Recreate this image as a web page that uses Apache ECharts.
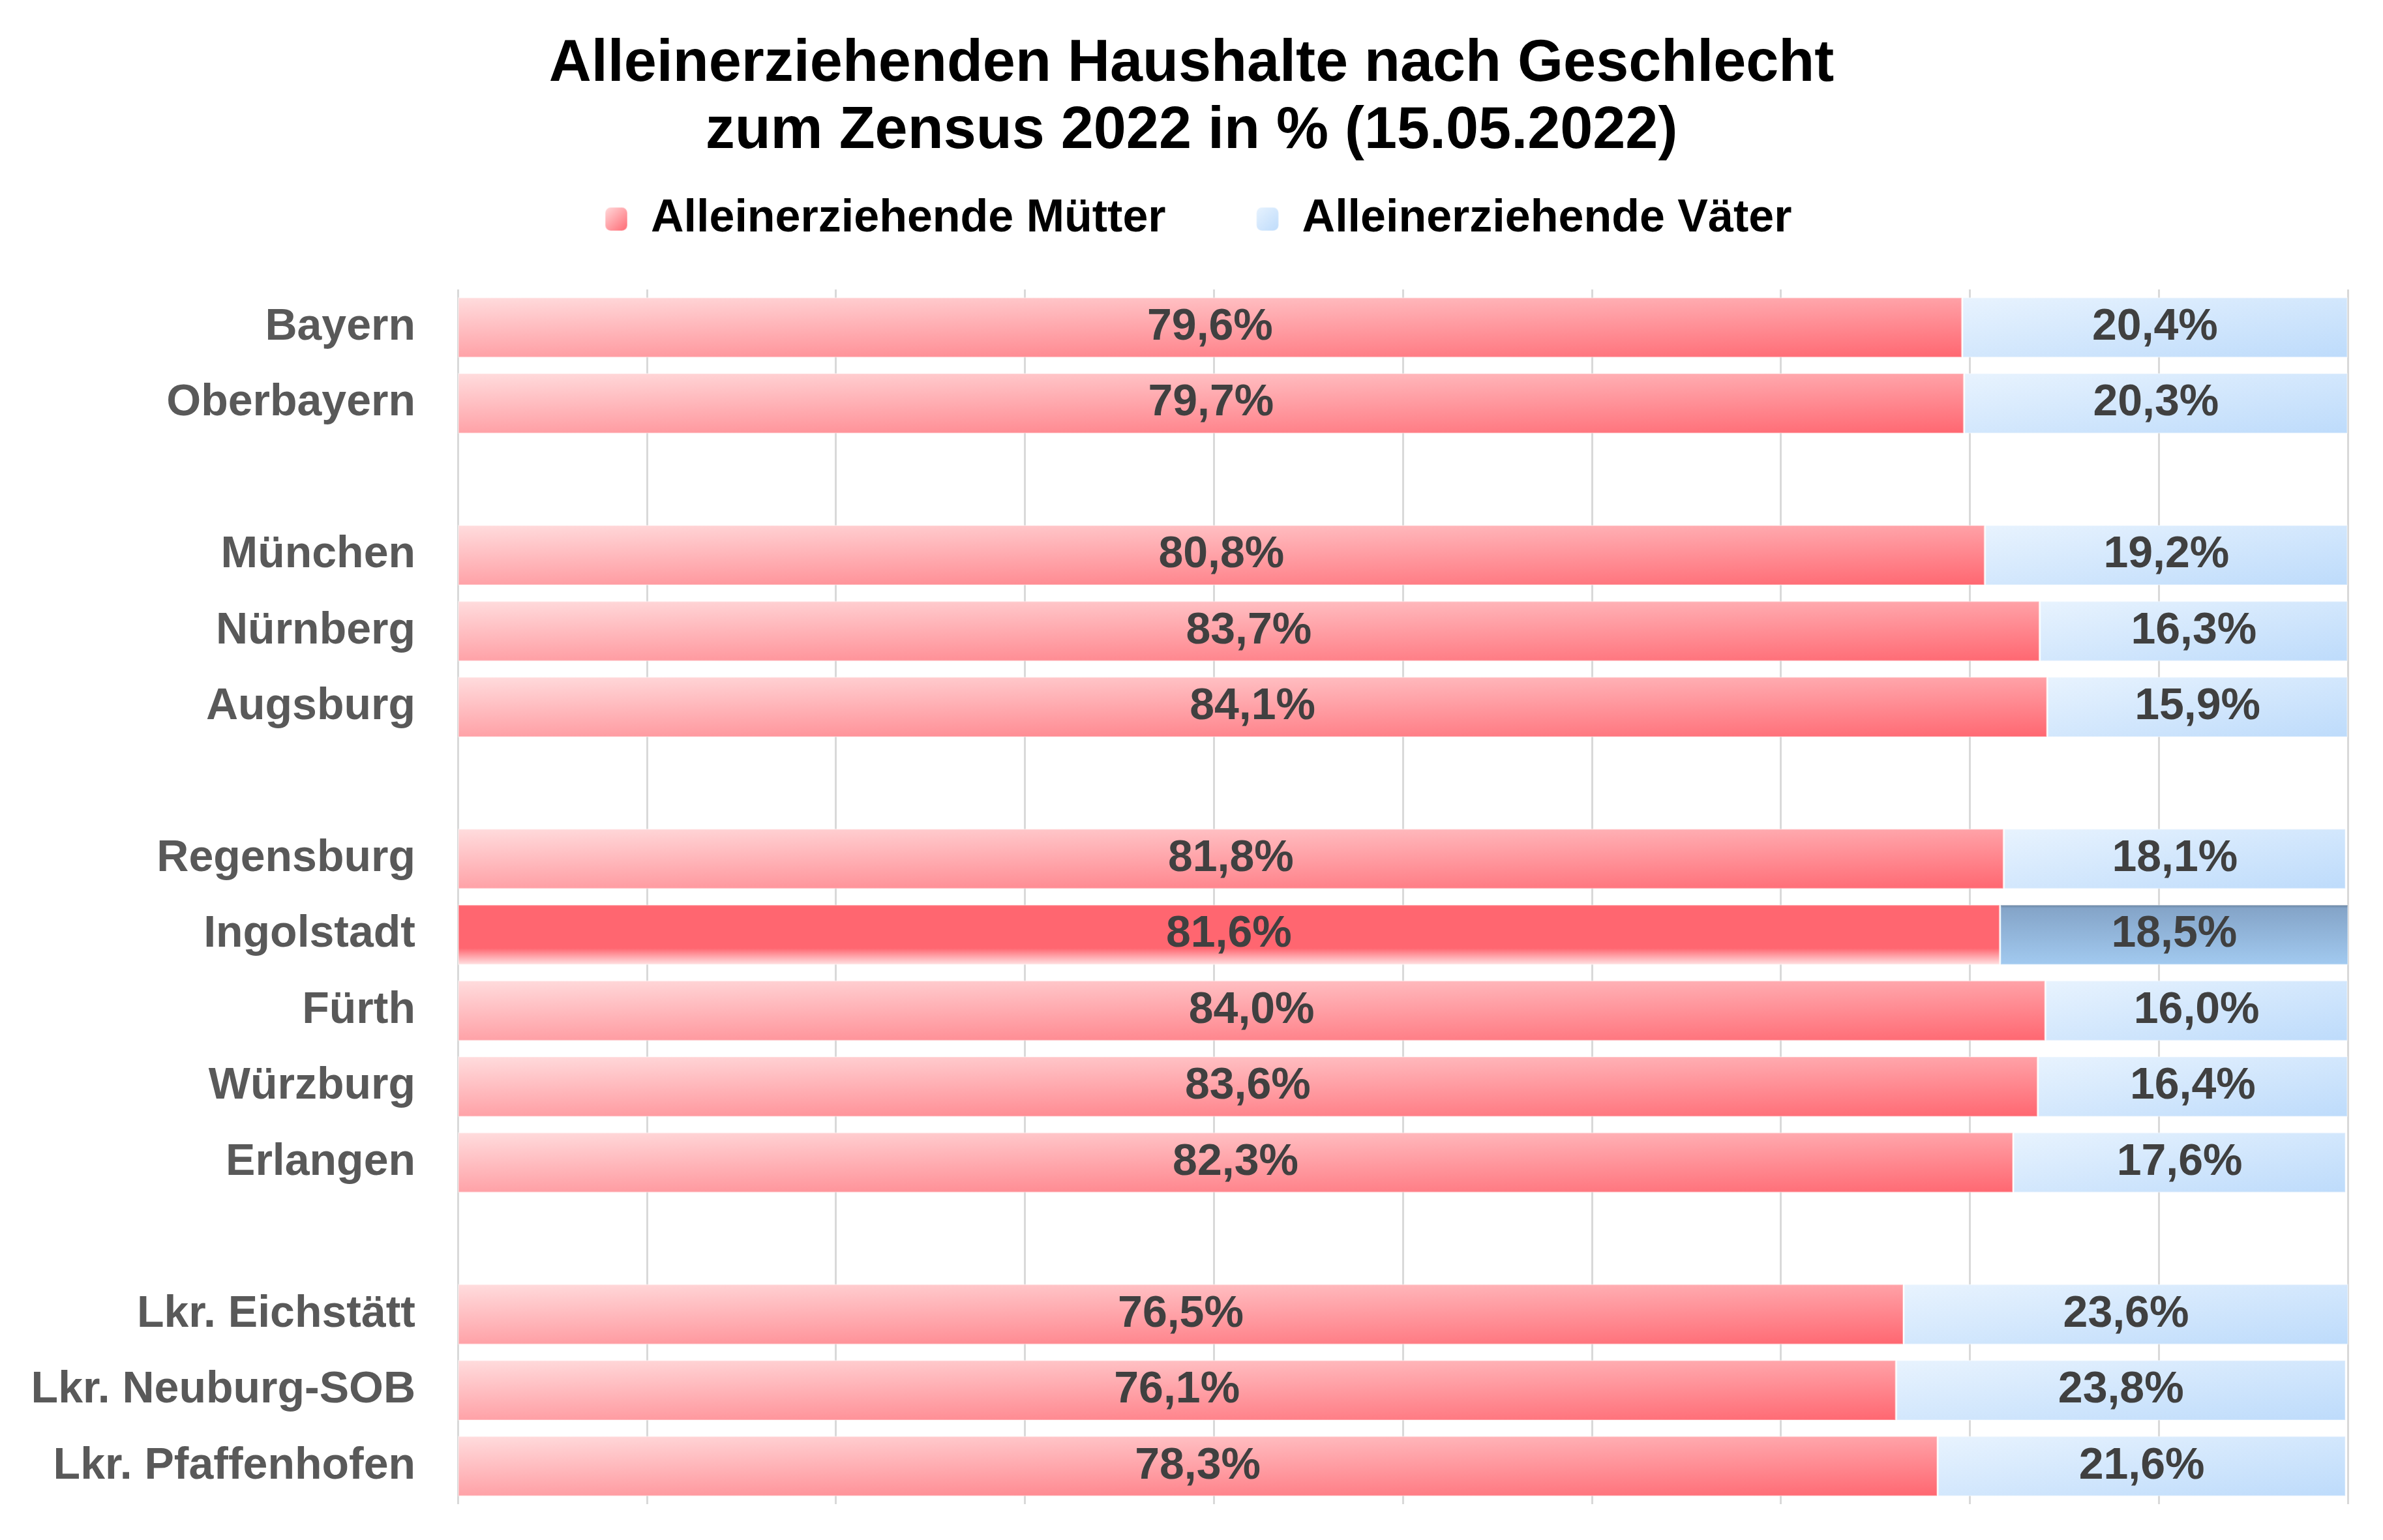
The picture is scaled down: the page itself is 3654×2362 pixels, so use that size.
<!DOCTYPE html>
<html lang="de">
<head>
    <meta charset="UTF-8">
    <title>Alleinerziehenden Haushalte nach Geschlecht</title>
</head>
<body style="margin:0">
<div class="main" style="width: 100vw;height: 100vh;margin: auto"></div>
</body>
<script src="https://cdn.jsdelivr.net/npm/echarts@6/dist/echarts.min.js"></script>
<script>
    // Leerzeilen als eigene (leere) Kategorien
    var categories = ['Bayern', 'Oberbayern', ' ', 'München', 'Nürnberg', 'Augsburg', '  ',
        'Regensburg', 'Ingolstadt', 'Fürth', 'Würzburg', 'Erlangen', '   ',
        'Lkr. Eichstätt', 'Lkr. Neuburg-SOB', 'Lkr. Pfaffenhofen'];
    var muetter = [79.6, 79.7, null, 80.8, 83.7, 84.1, null, 81.8, 81.6, 84.0, 83.6, 82.3, null, 76.5, 76.1, 78.3];
    var vaeter = [20.4, 20.3, null, 19.2, 16.3, 15.9, null, 18.1, 18.5, 16.0, 16.4, 17.6, null, 23.6, 23.8, 21.6];
    var hervorgehoben = 'Ingolstadt';

    var FONT = '"Liberation Sans", Arial, sans-serif';
    var GRID = {left: 702, right: 54, top: 444, bottom: 55};

    var main = document.querySelector(".main");
    var mainEcharts = echarts.init(main);

    // Diagonaler Verlauf wie in Excel (links oben -> rechts unten, auf die Balkengröße normiert)
    function diagonal(value, from, to) {
        var plotW = main.clientWidth - GRID.left - GRID.right;
        var plotH = main.clientHeight - GRID.top - GRID.bottom;
        var w = Math.max(value / 100 * plotW, 1);
        var h = plotH / categories.length * 0.8;
        var s = w * w + h * h;
        return new echarts.graphic.LinearGradient(0, 0, 2 * h * h / s, 2 * w * w / s, [
            {offset: 0, color: from},
            {offset: 1, color: to}
        ]);
    }

    function fmt(p) {
        return p.value.toFixed(1).replace('.', ',') + '%';
    }

    var mData = muetter.map(function (v, i) {
        if (v === null) return null;
        var col = diagonal(v, '#FFDDDE', '#FF6670');
        if (categories[i] === hervorgehoben) {
            col = new echarts.graphic.LinearGradient(0, 0, 0, 1, [
                {offset: 0, color: '#FF6670'},
                {offset: 0.72, color: '#FF6670'},
                {offset: 1, color: '#FFE6E7'}
            ]);
        }
        return {value: v, itemStyle: {color: col}};
    });

    var vData = vaeter.map(function (v, i) {
        if (v === null) return null;
        var col = diagonal(v, '#E8F3FE', '#BDDBFB');
        if (categories[i] === hervorgehoben) {
            col = new echarts.graphic.LinearGradient(0, 0, 0, 1, [
                {offset: 0, color: '#5A7590'},
                {offset: 0.06, color: '#84A4C8'},
                {offset: 1, color: '#A2CAF0'}
            ]);
        }
        return {value: v, itemStyle: {color: col}};
    });

    var valueLabel = {
        show: true,
        position: 'inside',
        formatter: fmt,
        color: '#404040',
        fontFamily: FONT,
        fontWeight: 'bold',
        fontSize: 68,
        padding: [12, 0, 0, 0]
    };

    var option = {
        backgroundColor: '#fff',
        animation: false,
        title: {
            text: 'Alleinerziehenden Haushalte nach Geschlecht\nzum Zensus 2022 in % (15.05.2022)',
            left: 'center',
            top: 43,
            textStyle: {
                fontFamily: FONT,
                fontWeight: 'bold',
                fontSize: 90,
                lineHeight: 103,
                color: '#000'
            }
        },
        legend: {
            top: 296,
            left: 922,
            itemWidth: 34,
            itemHeight: 36,
            itemGap: 138,
            data: ['Alleinerziehende Mütter', 'Alleinerziehende Väter'],
            textStyle: {
                fontFamily: FONT,
                fontWeight: 'bold',
                fontSize: 70,
                color: '#000',
                padding: [0, 0, 0, 31]
            }
        },
        grid: GRID,
        xAxis: {
            type: 'value',
            min: 0,
            max: 100,
            interval: 10,
            axisLabel: {show: false},
            axisLine: {show: false},
            axisTick: {show: false},
            splitLine: {show: true, lineStyle: {color: '#D9D9D9', width: 3}}
        },
        yAxis: {
            type: 'category',
            inverse: true,
            data: categories,
            axisLine: {show: false},
            axisTick: {show: false},
            axisLabel: {
                margin: 65,
                fontFamily: FONT,
                fontWeight: 'bold',
                fontSize: 68,
                color: '#595959',
                padding: [12, 0, 0, 0]
            }
        },
        series: [{
            name: 'Alleinerziehende Mütter',
            type: 'bar',
            stack: 'gesamt',
            barCategoryGap: '20%',
            itemStyle: {
                color: new echarts.graphic.LinearGradient(0, 0, 1, 1, [
                    {offset: 0, color: '#FFDDDE'}, {offset: 1, color: '#FF6670'}
                ]),
                borderColor: 'rgba(255,255,255,0.3)',
                borderWidth: 2
            },
            label: valueLabel,
            data: mData
        }, {
            name: 'Alleinerziehende Väter',
            type: 'bar',
            stack: 'gesamt',
            barCategoryGap: '20%',
            itemStyle: {
                color: new echarts.graphic.LinearGradient(0, 0, 1, 1, [
                    {offset: 0, color: '#E8F3FE'}, {offset: 1, color: '#BDDBFB'}
                ]),
                borderColor: 'rgba(255,255,255,0.3)',
                borderWidth: 2
            },
            label: valueLabel,
            data: vData
        }]
    };

    mainEcharts.setOption(option);

    window.onresize = function () {
        mainEcharts.resize();
    };
</script>
</html>
